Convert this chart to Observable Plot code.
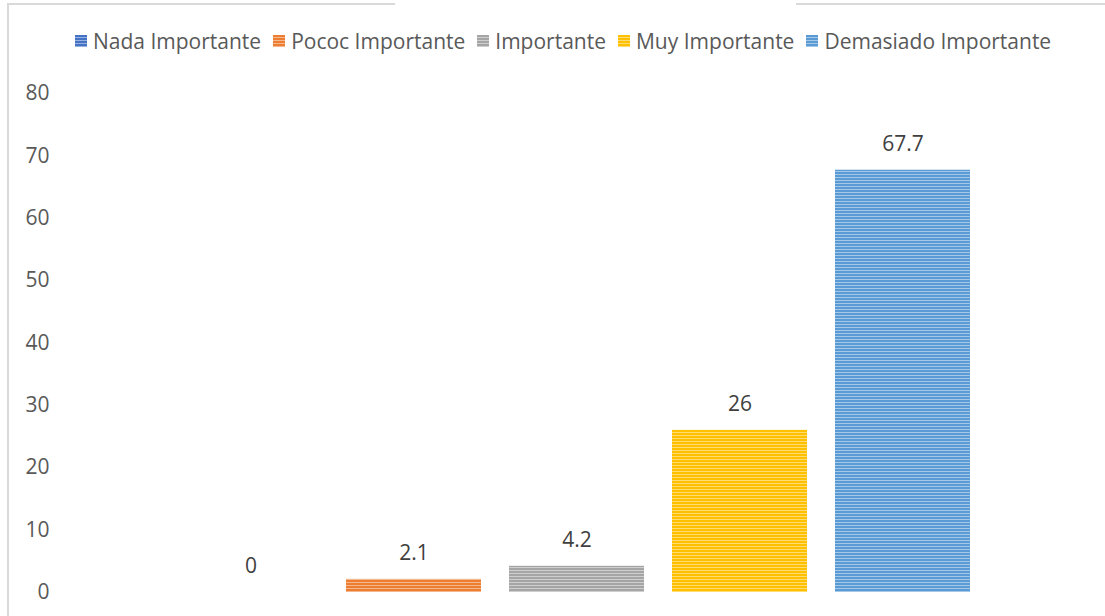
<!DOCTYPE html>
<html>
<head>
<meta charset="utf-8">
<script src="https://cdn.jsdelivr.net/npm/d3@7"></script>
<script src="https://cdn.jsdelivr.net/npm/@observablehq/plot@0.6"></script>
<style>
  html, body { margin: 0; padding: 0; background: #fff; }
  #wrap { position: relative; width: 1105px; height: 616px; overflow: hidden; font-family: "Open Sans", "Noto Sans", sans-serif; }
  #legend { position: absolute; top: 26px; left: 75px; height: 30px; display: flex; align-items: center; white-space: nowrap; font-size: 21px; color: #595959; }
  .item { display: flex; align-items: center; margin-right: 12px; }
  .sw { width: 12px; height: 12px; margin-right: 6px; }
  #chart { position: absolute; top: 70px; left: 0; }
  .bl { position: absolute; background: #d9d9d9; }
</style>
</head>
<body>
<div id="wrap">
  <div class="bl" style="left:7px; top:3px; width:2px; height:613px;"></div>
  <div class="bl" style="left:7px; top:3px; width:388px; height:2px;"></div>
  <div class="bl" style="left:796px; top:3px; width:309px; height:2px;"></div>
  <div id="legend"></div>
  <div id="chart"></div>
</div>
<script>
const categories = ["Nada Importante", "Pococ Importante", "Importante", "Muy Importante", "Demasiado Importante"];
const values = [0, 2.1, 4.2, 26, 67.7];
const labels = ["0", "2.1", "4.2", "26", "67.7"];
const colors = ["#4472C4", "#ED7D31", "#A5A5A5", "#FFC000", "#5B9BD5"];
const yTicks = [0, 10, 20, 30, 40, 50, 60, 70, 80];

const data = categories.map((c, i) => ({cat: c, value: values[i], label: labels[i]}));
const patternIds = categories.map((c, i) => `stripe${i}`);

function lighten(hex, t) {
  const c = d3.rgb(hex);
  return d3.rgb(c.r + (255 - c.r) * t, c.g + (255 - c.g) * t, c.b + (255 - c.b) * t).formatHex();
}

const chart = Plot.plot({
  width: 1105,
  height: 546,
  marginLeft: 181,
  marginRight: 132,
  marginTop: 23,
  marginBottom: 24,
  style: {fontFamily: "'Open Sans', 'Noto Sans', sans-serif", fontSize: "21px", color: "#595959", background: "transparent"},
  x: {domain: categories, paddingInner: 0.17, paddingOuter: 0, axis: null},
  y: {domain: [0, 80], ticks: yTicks},
  color: {domain: categories, range: patternIds.map(id => `url(#${id})`)},
  marks: [
    Plot.axisY({ticks: yTicks, tickSize: 0, tickPadding: 132, label: null, fontSize: 21, fill: "#595959"}),
    Plot.barY(data, {x: "cat", y: "value", fill: "cat"}),
    Plot.text(data, {x: "cat", y: "value", text: "label", dy: -26, lineAnchor: "middle", fontSize: 21, fill: "#404040"})
  ]
});

// stripe patterns
const svgNS = "http://www.w3.org/2000/svg";
const defs = document.createElementNS(svgNS, "defs");
colors.forEach((col, i) => {
  const p = document.createElementNS(svgNS, "pattern");
  p.setAttribute("id", patternIds[i]);
  p.setAttribute("patternUnits", "userSpaceOnUse");
  p.setAttribute("width", 8);
  p.setAttribute("height", 3);
  const r1 = document.createElementNS(svgNS, "rect");
  r1.setAttribute("width", 8); r1.setAttribute("height", 3); r1.setAttribute("fill", col);
  const r2 = document.createElementNS(svgNS, "rect");
  r2.setAttribute("y", 2); r2.setAttribute("width", 8); r2.setAttribute("height", 1); r2.setAttribute("fill", lighten(col, 0.45));
  p.appendChild(r1); p.appendChild(r2);
  defs.appendChild(p);
});
chart.insertBefore(defs, chart.firstChild);
document.getElementById("chart").appendChild(chart);

// legend
const legend = document.getElementById("legend");
categories.forEach((c, i) => {
  const item = document.createElement("div");
  item.className = "item";
  const sw = document.createElement("div");
  sw.className = "sw";
  sw.style.background = `repeating-linear-gradient(to bottom, ${colors[i]} 0px, ${colors[i]} 2px, ${lighten(colors[i], 0.45)} 2px, ${lighten(colors[i], 0.45)} 3px)`;
  const t = document.createElement("span");
  t.textContent = c;
  item.appendChild(sw); item.appendChild(t);
  legend.appendChild(item);
});
</script>
</body>
</html>
